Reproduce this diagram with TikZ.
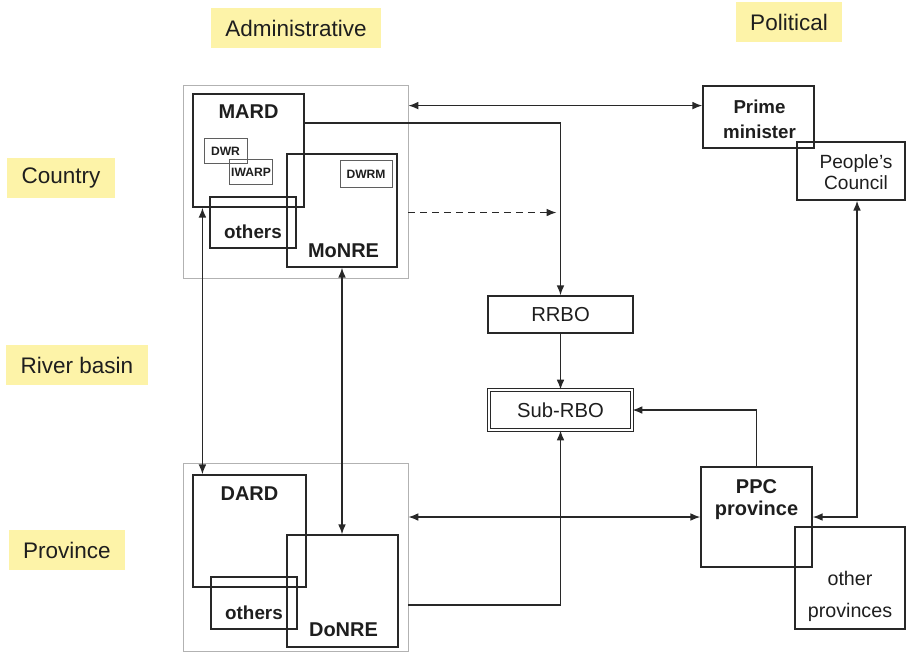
\documentclass[tikz,border=0pt]{standalone}
\usepackage{fontspec}
\setmainfont{Liberation Sans}
\usetikzlibrary{arrows.meta, positioning, fit, calc}
\definecolor{levelfill}{RGB}{253,243,168}
\definecolor{boxborder}{RGB}{40,40,40}
\definecolor{groupborder}{RGB}{178,178,178}
\definecolor{unitborder}{RGB}{95,95,95}
\definecolor{textdark}{RGB}{30,30,30}
\tikzset{
  levellabel/.style={
    rectangle, fill=levelfill, text=textdark,
    font=\fontsize{16}{19}\selectfont,
    inner xsep=0.36cm, inner ysep=0pt, minimum height=1cm},
  groupbox/.style={
    rectangle, draw=groupborder, line width=0.6pt, inner sep=0pt},
  orgbox/.style={
    rectangle, draw=boxborder, line width=1pt, inner sep=0pt},
  unitbox/.style={
    rectangle, draw=unitborder, line width=0.6pt, inner sep=0pt},
  unittext/.style={
    text=textdark, inner sep=0pt,
    font=\bfseries\fontsize{8.6}{10}\selectfont},
  orgtitle/.style={
    text=textdark, inner sep=0pt, align=center,
    font=\bfseries\fontsize{14.2}{17}\selectfont},
  orgtext/.style={
    text=textdark, inner sep=0pt, align=center,
    font=\fontsize{14.4}{17}\selectfont},
  arrow/.style={-{Latex[length=7pt,width=5.5pt]}, line width=1pt,
                draw=boxborder},
  twoway/.style={{Latex[length=7pt,width=5.5pt]}-{Latex[length=7pt,width=5.5pt]},
                 line width=1pt, draw=boxborder}
}

\begin{document}
\begin{tikzpicture}[x=0.025cm, y=-0.025cm]
  \useasboundingbox (0,0) rectangle (906,654);

  %% Level labels
  \node[levellabel] (admin) at (296,28) {Administrative};
  \node[levellabel] (polit) at (789,22) {Political};
  \node[levellabel] (country) at (61,178) {Country};
  \node[levellabel] (basin) at (77,365) {River basin};
  \node[levellabel] (prov) at (67,550) {Province};

  %% Country level: ministries
  \node[groupbox, fit={(183,85) (408,278)}] (adminc) {};
  \node[orgbox, fit={(193,94) (304,207)}] (mard) {};
  \node[unitbox, fit={(204,138) (247,163)}] (dwr) {};
  \node[unitbox, fit={(229,159) (272,184)}] (iwarp) {};
  \node[orgbox, fit={(210,197) (296,248)}] (othersc) {};
  \node[orgbox, fit={(287,154) (397,267)}] (monre) {};
  \node[unitbox, fit={(340,160) (392,187)}] (dwrm) {};
  \node[orgtitle] at ($(mard.north)+(0,18.5)$) {MARD};
  \node[unittext] at ($(dwr.center)+(0,0.5)$) {DWR};
  \node[unittext] at ($(iwarp.center)+(0.5,0.5)$) {IWARP};
  \node[unittext] at ($(dwrm.center)+(0,0.5)$) {DWRM};
  \node[orgtitle, font=\bfseries\fontsize{13.4}{16}\selectfont]
    at ($(othersc.south)+(0,-17)$) {others};
  \node[orgtitle] at ($(monre.south)+(1.5,-17)$) {MoNRE};

  %% Province level: departments
  \node[groupbox, fit={(183,463) (408,651)}] (adminp) {};
  \node[orgbox, fit={(193,475) (306,587)}] (dard) {};
  \node[orgbox, fit={(211,577) (297,629)}] (othersp) {};
  \node[orgbox, fit={(287,535) (398,647)}] (donre) {};
  \node[orgtitle] at ($(dard.north)+(0,19.5)$) {DARD};
  \node[orgtitle, font=\bfseries\fontsize{13.4}{16}\selectfont]
    at ($(othersp.south)+(0,-17)$) {others};
  \node[orgtitle] at ($(donre.south)+(1,-17.5)$) {DoNRE};

  %% River basin organisations
  \node[orgbox, fit={(488,296) (633,333)}] (rrbo) {};
  \node[orgbox, fit={(489,390) (632,430)}, double, double distance=1.6pt,
        line width=0.6pt] (subrbo) {};
  \node[orgtext] at ($(rrbo.center)+(0,0.5)$) {RRBO};
  \node[orgtext] at (subrbo.center) {Sub-RBO};

  %% Political side
  \node[orgbox, fit={(703,86) (814,148)}] (pm) {};
  \node[orgbox, fit={(797,142) (905,200)}] (pc) {};
  \node[orgbox, fit={(701,467) (812,567)}] (ppc) {};
  \node[orgbox, fit={(795,527) (905,629)}] (op) {};
  \node[orgtitle, font=\bfseries\fontsize{13.3}{17.7}\selectfont]
    at ($(pm.center)+(1,2)$) {Prime\\minister};
  \node[orgtext, font=\fontsize{13.6}{15.4}\selectfont]
    at ($(pc.center)+(5,1)$) {People’s\\Council};
  \node[orgtitle] at ($(ppc.north)+(0,33.5)$) {PPC\\[-1.2pt]province};
  \node[orgtext, font=\fontsize{14}{23}\selectfont]
    at ($(op.south)+(0,-33)$) {other\\provinces};

  %% Ports on box edges
  \coordinate (pmport) at ($(pm.north west)!0.32!(pm.south west)$);
  \coordinate (mardport) at ($(mard.north east)!0.26!(mard.south east)$);
  \coordinate (dashstart) at ($(adminc.north east)!0.66!(adminc.south east)$);
  \coordinate (dashend) at ($(dashstart -| rrbo.north)+(-4,0)$);
  \coordinate (mardfoot) at ($(mard.south west)!0.09!(mard.south east)$);
  \coordinate (donreport) at ($(adminp.north east)!0.755!(adminp.south east)$);
  \coordinate (pcfoot) at ($(pc.south west)!0.555!(pc.south east)$);

  %% Arrows
  \draw[twoway] (adminc.east |- pmport) -- (pmport);
  \draw[arrow] (mardport) -| (rrbo.north);
  \draw[arrow, dashed, dash pattern=on 5pt off 3.5pt] (dashstart) -- (dashend);
  \draw[arrow] (rrbo.south) -- (subrbo.north);
  \draw[twoway] (mardfoot) -- (mardfoot |- dard.north);
  \draw[twoway] (monre.south) -- (monre.south |- donre.north);
  \draw[twoway] (adminp.east |- ppc.west) -- (ppc.west);
  \draw[arrow] (donreport) -| (subrbo.south);
  \draw[arrow] (ppc.north) |- (subrbo.east);
  \draw[twoway] (ppc.east) -| (pcfoot);

\end{tikzpicture}
\end{document}
